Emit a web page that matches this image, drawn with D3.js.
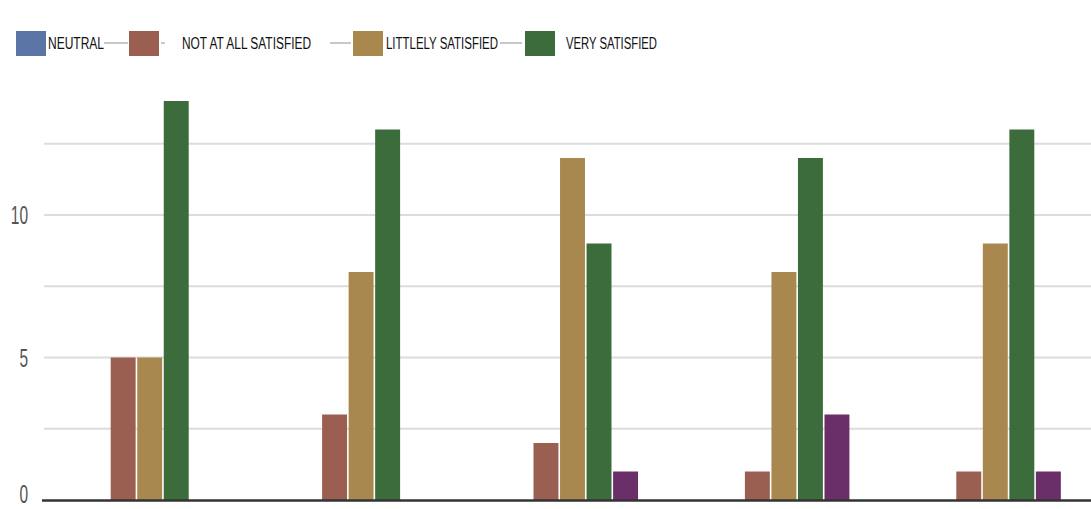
<!DOCTYPE html>
<html>
<head>
<meta charset="utf-8">
<script src="https://cdn.jsdelivr.net/npm/d3@7"></script>
<style>
  body { margin: 0; background: #fff; }
  svg { display: block; }
</style>
</head>
<body>
<div id="chart"></div>
<script>
"use strict";

// data

const groups = ["G1", "G2", "G3", "G4", "G5"];

const seriesNames = ["NEUTRAL", "NOT AT ALL SATISFIED", "LITTLELY SATISFIED", "VERY SATISFIED", "OTHER"];

const neutral      = [0, 0, 0, 0, 0];
const notAtAll     = [5, 3, 2, 1, 1];
const littlely     = [5, 8, 12, 8, 9];
const verySat      = [14, 13, 9, 12, 13];
const other        = [0, 0, 1, 3, 1];

const yTicks = [0, 2.5, 5, 7.5, 10, 12.5];
const yLabels = [0, 5, 10];


const colors = ["#5a74a5", "#9b5f52", "#a9884f", "#3c6b3c", "#6a2f69"];

const width = 1091;
const height = 509;
const margin = ({top: 101, right: -10, bottom: 9, left: 44});

const values = [neutral, notAtAll, littlely, verySat, other];

const data = groups.map((g, i) => ({
    group: g,
    bars: seriesNames.map((s, j) => ({key: s, value: values[j][i], color: colors[j]}))
}));

const x0 = d3.scaleBand()
    .domain(groups)
    .range([margin.left, width - margin.right])
    .paddingInner(0.38)
    .paddingOuter(0.19);

const x1 = d3.scaleBand()
    .domain(seriesNames)
    .range([0, x0.bandwidth()])
    .paddingInner(0.06);

const y = d3.scaleLinear()
    .domain([0, 14])
    .range([height - margin.bottom, margin.top]);

const svg = d3.select("#chart").append("svg")
    .attr("width", width)
    .attr("height", height);

// grid
svg.append("g")
    .selectAll("line")
    .data(yTicks.filter(d => d > 0))
    .join("line")
        .attr("x1", margin.left)
        .attr("x2", width)
        .attr("y1", d => y(d))
        .attr("y2", d => y(d))
        .attr("stroke", "#dcdcdc")
        .attr("stroke-width", 2);

// y labels (narrow digits); keep the 0 inside the bottom edge
svg.append("g")
    .selectAll("text")
    .data(yLabels)
    .join("text")
        .attr("transform", d => `translate(28,${Math.min(y(d) + 9, height - 6)}) scale(0.62,1)`)
        .attr("text-anchor", "end")
        .style("font", "25px 'Liberation Sans', Arial, sans-serif")
        .attr("fill", "#555")
        .text(d => d);

// bars
svg.append("g")
    .selectAll("g")
    .data(data)
    .join("g")
        .attr("transform", d => `translate(${x0(d.group)},0)`)
    .selectAll("rect")
    .data(d => d.bars.filter(b => b.value > 0))
    .join("rect")
        .attr("x", d => x1(d.key))
        .attr("y", d => y(d.value))
        .attr("width", x1.bandwidth())
        .attr("height", d => y(0) - y(d.value))
        .attr("fill", d => d.color);

// baseline
svg.append("line")
    .attr("x1", 42)
    .attr("x2", width)
    .attr("y1", y(0) + 0.5)
    .attr("y2", y(0) + 0.5)
    .attr("stroke", "#333")
    .attr("stroke-width", 2.5);

// legend: square x, text x, text width, connector line before square
const legendLayout = [
    {sq: 16,  tx: 48,  tw: 56,  line: null},
    {sq: 129, tx: 182, tw: 129, line: [104, 128]},
    {sq: 353, tx: 386, tw: 112, line: [330, 351]},
    {sq: 525, tx: 566, tw: 91,  line: [500, 522]}
];

const legend = svg.append("g");

legendLayout.forEach((l, i) => {
    if (l.line) legend.append("line")
        .attr("x1", l.line[0]).attr("x2", l.line[1])
        .attr("y1", 43).attr("y2", 43)
        .attr("stroke", "#c8c8c8")
        .attr("stroke-width", 2);

    legend.append("rect")
        .attr("x", l.sq)
        .attr("y", 31)
        .attr("width", 30)
        .attr("height", 25)
        .attr("fill", colors[i]);

    legend.append("text")
        .attr("x", l.tx)
        .attr("y", 49)
        .attr("textLength", l.tw)
        .attr("lengthAdjust", "spacingAndGlyphs")
        .style("font", "16px 'Liberation Sans', Arial, sans-serif")
        .attr("fill", "#111")
        .text(seriesNames[i]);
});

// small dash after the second square
legend.append("line")
    .attr("x1", 161).attr("x2", 165)
    .attr("y1", 43).attr("y2", 43)
    .attr("stroke", "#c8c8c8")
    .attr("stroke-width", 2);

</script>
</body>
</html>
